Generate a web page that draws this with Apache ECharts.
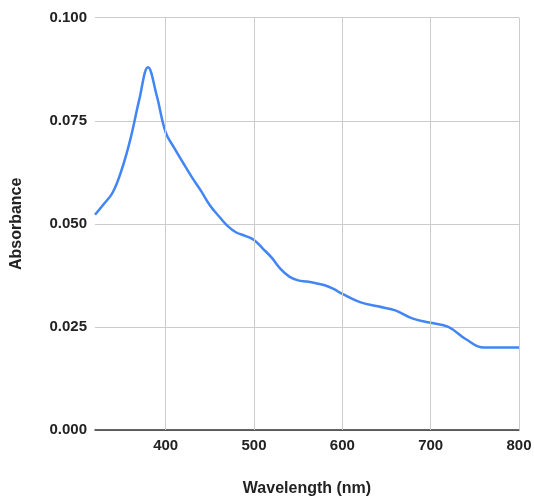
<!DOCTYPE html>
<html>
<head>
<meta charset="utf-8">
<script src="https://cdn.jsdelivr.net/npm/echarts@6/dist/echarts.min.js"></script>
<style>html,body{margin:0;padding:0;background:#fff}#c{width:534px;height:496px}</style>
</head>
<body>
<div id="c"></div>
<script>
const wavelengths = [320,330,340,350,360,370,380,390,400,410,420,430,440,450,460,470,480,490,500,510,520,530,540,550,560,570,580,590,600,620,640,660,680,700,720,740,760,780,800];
const absorbance = [0.0522,0.0548,0.0576,0.0630,0.0705,0.0800,0.0880,0.0810,0.0722,0.0683,0.0647,0.0612,0.0580,0.0545,0.0519,0.0495,0.0479,0.0471,0.0461,0.0440,0.0418,0.0391,0.0372,0.0363,0.0360,0.0356,0.0351,0.0342,0.0330,0.0310,0.0300,0.0290,0.0270,0.0260,0.0250,0.0220,0.0200,0.0200,0.0200];
const xTicks = [400,500,600,700,800];
const xTitle = 'Wavelength (nm)';
const yTitle = 'Absorbance';

const chart = echarts.init(document.getElementById('c'));
const font = 'Liberation Sans, Arial, sans-serif';
chart.setOption({
  animation: false,
  grid: {left: 95, right: 15, top: 17.7, bottom: 66, outerBoundsMode: 'none', containLabel: false},
  xAxis: {
    type: 'value', min: 320, max: 800,
    name: xTitle, nameLocation: 'middle', nameGap: 51,
    nameTextStyle: {fontFamily: font, fontWeight: 'bold', fontSize: 16, color: '#222'},
    axisLine: {show: true, lineStyle: {color: '#333', width: 1.5}},
    axisTick: {show: false},
    splitLine: {show: false},
    axisLabel: {customValues: xTicks, margin: 8, fontFamily: font, fontWeight: 'bold', fontSize: 15, color: '#222'}
  },
  yAxis: {
    type: 'value', min: 0, max: 0.1, interval: 0.025,
    name: yTitle, nameLocation: 'middle', nameGap: 70,
    nameTextStyle: {fontFamily: font, fontWeight: 'bold', fontSize: 16, color: '#222'},
    axisLine: {show: false},
    axisTick: {show: false},
    splitLine: {show: true, lineStyle: {color: '#cccccc', width: 1}},
    axisLabel: {margin: 8, fontFamily: font, fontWeight: 'bold', fontSize: 15, color: '#222',
      formatter: v => v.toFixed(3)}
  },
  series: [
    {
      type: 'line', data: [], z: 1, silent: true,
      markLine: {
        silent: true, symbol: ['none','none'], label: {show: false},
        lineStyle: {color: '#cccccc', width: 1, type: 'solid'},
        data: xTicks.map(v => ({xAxis: v}))
      }
    },
    {
      type: 'line', z: 3,
      data: wavelengths.map((w, i) => [w, absorbance[i]]),
      smooth: 0.4, showSymbol: false, symbol: 'none',
      lineStyle: {color: '#4285F4', width: 2.5}
    }
  ]
});
</script>
</body>
</html>
